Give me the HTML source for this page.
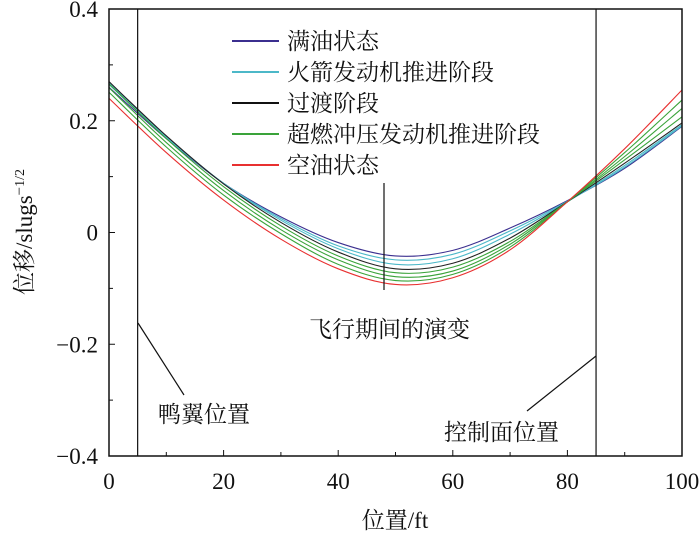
<!DOCTYPE html>
<html><head><meta charset="utf-8"><style>
body{margin:0;background:#fff}
svg{display:block;font-family:"Liberation Serif","Noto Serif CJK SC",serif}
</style></head><body>
<svg id="chart" width="700" height="535" viewBox="0 0 700 535"></svg>
<script>
const xTicks=[0,20,40,60,80,100];
const yTicks=[0.4,0.2,0,-0.2,-0.4];
const yTickLabels=["0.4","0.2","0","\u22120.2","\u22120.4"];
const xs=[0,10,20,30,40,50,60,70,80,90,100];
const sFull=[0.26,0.168,0.088,0.028,-0.018,-0.042,-0.032,0.008,0.057,0.115,0.19];
const sRocket1=[0.265,0.17,0.088,0.025,-0.024,-0.049,-0.039,0.003,0.056,0.117,0.191];
const sRocket2=[0.268,0.172,0.088,0.022,-0.029,-0.057,-0.047,-0.003,0.055,0.12,0.193];
const sTrans=[0.27,0.173,0.087,0.018,-0.035,-0.065,-0.055,-0.01,0.055,0.124,0.196];
const sGreen1=[0.266,0.168,0.082,0.012,-0.042,-0.072,-0.062,-0.016,0.055,0.13,0.207];
const sGreen2=[0.259,0.161,0.075,0.005,-0.049,-0.079,-0.069,-0.021,0.055,0.136,0.222];
const sGreen3=[0.251,0.153,0.067,-0.002,-0.057,-0.086,-0.075,-0.026,0.055,0.143,0.237];
const sEmpty=[0.24,0.143,0.058,-0.012,-0.065,-0.093,-0.081,-0.031,0.055,0.15,0.255];
const series=[[sFull,"#3b2f8f","full-fuel-curve"],[sRocket1,"#4cb8c8","rocket-stage-curve-1"],[sRocket2,"#4cb8c8","rocket-stage-curve-2"],[sTrans,"#222","transition-curve"],[sGreen1,"#3aa33a","scramjet-curve-1"],[sGreen2,"#3aa33a","scramjet-curve-2"],[sGreen3,"#3aa33a","scramjet-curve-3"],[sEmpty,"#e83030","empty-fuel-curve"]];
const legendLabels=["满油状态","火箭发动机推进阶段","过渡阶段","超燃冲压发动机推进阶段","空油状态"];
const legendColors=["#3b2f8f","#4cb8c8","#111","#3aa33a","#e83030"];
const L=109,R=682,T=9,B=456;
const X=v=>L+(v-0)/100*(R-L);
const Y=v=>T+(0.4-v)/0.8*(B-T);
const svg=document.getElementById('chart');
const NS="http://www.w3.org/2000/svg";
function mk(tag,attrs,parent){const e=document.createElementNS(NS,tag);for(const k in attrs)e.setAttribute(k,attrs[k]);(parent||svg).appendChild(e);return e;}
function txt(s,x,y,size,anchor,name){const t=mk('text',{x:x,y:y,'font-size':size,'text-anchor':anchor||'start',fill:'#111'});t.textContent=s;return t;}
series.forEach(([vals,col,name])=>{
  const p=xs.map((x,i)=>[X(x),Y(vals[i])]);
  let d=`M${p[0][0]},${p[0][1]}`;
  for(let i=0;i<p.length-1;i++){const p0=p[Math.max(0,i-1)],p1=p[i],p2=p[i+1],p3=p[Math.min(p.length-1,i+2)];
    d+=` C${p1[0]+(p2[0]-p0[0])/6},${p1[1]+(p2[1]-p0[1])/6} ${p2[0]-(p3[0]-p1[0])/6},${p2[1]-(p3[1]-p1[1])/6} ${p2[0]},${p2[1]}`;}
  const el=mk('path',{d:d,fill:'none',stroke:col,'stroke-width':1.1});
  
  
});
const fr=mk('rect',{x:L,y:T,width:R-L,height:B-T,fill:'none',stroke:'#111','stroke-width':1.5});


for(let v=0;v<=100;v+=10){mk('line',{x1:X(v),x2:X(v),y1:B,y2:B-(v%20?4:6),stroke:'#111'});}
for(let v=-0.4;v<=0.401;v+=0.1){mk('line',{x1:L,x2:L+(Math.abs(Math.round(v*10))%2?4:6),y1:Y(v),y2:Y(v),stroke:'#111'});}
xTicks.forEach(v=>txt(String(v),X(v),489,23,'middle','x-tick-label'));
yTicks.forEach((v,i)=>txt(yTickLabels[i],98,Y(v)+8,23,'end','y-tick-label'));
txt("位置/ft",395,528,23,'middle','x-axis-title');
const yt=mk('text',{transform:'translate(32,232) rotate(-90)','font-size':23,'text-anchor':'middle',fill:'#111'});


yt.innerHTML='位移/slugs<tspan dy="-8" font-size="15">\u2212</tspan><tspan font-size="14">1/2</tspan>';
[[5,'canard-line'],[85,'control-surface-line']].forEach(([v,n])=>{const l=mk('line',{x1:X(v),x2:X(v),y1:T,y2:B,stroke:'#111','stroke-width':1.2});});
mk('line',{x1:384,x2:384,y1:183,y2:290,stroke:'#111','stroke-width':1.2});
mk('line',{x1:138,x2:184,y1:323,y2:395,stroke:'#111','stroke-width':1.2});
mk('line',{x1:596,x2:527,y1:356,y2:411,stroke:'#111','stroke-width':1.2});
txt("鸭翼位置",158,422,23,'start','canard-label');
txt("控制面位置",444,440,23,'start','control-surface-label');
txt("飞行期间的演变",309,337,23,'start','evolution-label');
legendLabels.forEach((s,i)=>{const y=41+i*31;
  const l=mk('line',{x1:232,x2:279,y1:y,y2:y,stroke:legendColors[i],'stroke-width':2});
  
  
  txt(s,287,y+8,23,'start','legend-entry');});
</script>
</body></html>
